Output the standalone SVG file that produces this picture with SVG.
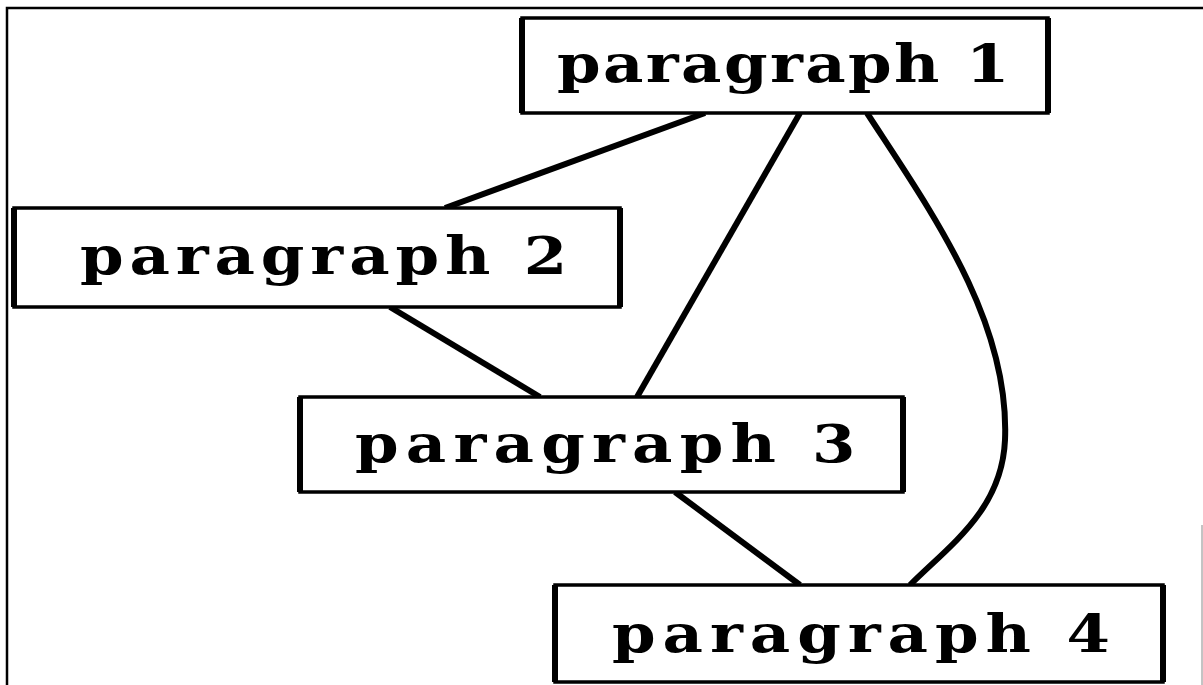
<svg xmlns="http://www.w3.org/2000/svg" width="1203" height="685" viewBox="0 0 1203 685">
  <style>
    .box { fill: #fff; stroke: #000; stroke-width: 3.5; }
    .side { stroke: #000; stroke-width: 6; }
    .label { font-family: "DejaVu Serif", "Liberation Serif", serif; font-size: 52px; font-weight: bold; fill: #000; }
    .edge { fill: none; stroke: #000; stroke-width: 6; stroke-linecap: butt; }
    .frame { fill: none; stroke: #000; stroke-width: 2.5; }
  </style>
  <rect width="1203" height="685" fill="#fff"/>
  <!-- outer frame -->
  <path class="frame" d="M7,690 L7,8 L1210,8"/>
  <line x1="1202" y1="525" x2="1202" y2="685" stroke="#888" stroke-width="1"/>

  <g id="connectors">
    <line class="edge" x1="705" y1="113" x2="445" y2="208"/>
    <line class="edge" x1="800" y1="113" x2="637" y2="397"/>
    <path class="edge" d="M867,113 C930,210 1010,320 1005,440 C1002,510 950,545 910,585"/>
    <line class="edge" x1="390" y1="307" x2="540" y2="397"/>
    <line class="edge" x1="675" y1="492" x2="800" y2="585"/>
  </g>

  <!-- labels are set in a horizontally widened serif -->
  <g id="node-p1">
    <rect class="box" x="522" y="18" width="526" height="95"/>
    <line class="side" x1="522" y1="18" x2="522" y2="113"/>
    <line class="side" x1="1048" y1="18" x2="1048" y2="113"/>
    <text class="label" transform="translate(557,82) scale(1.2,1)" textLength="377" lengthAdjust="spacing">paragraph 1</text>
  </g>
  <g id="node-p2">
    <rect class="box" x="14" y="208" width="606" height="99"/>
    <line class="side" x1="14" y1="208" x2="14" y2="307"/>
    <line class="side" x1="620" y1="208" x2="620" y2="307"/>
    <text class="label" transform="translate(80,274) scale(1.2,1)" textLength="406" lengthAdjust="spacing">paragraph 2</text>
  </g>
  <g id="node-p3">
    <rect class="box" x="300" y="397" width="603" height="95"/>
    <line class="side" x1="300" y1="397" x2="300" y2="492"/>
    <line class="side" x1="903" y1="397" x2="903" y2="492"/>
    <text class="label" transform="translate(355,462) scale(1.2,1)" textLength="417" lengthAdjust="spacing">paragraph 3</text>
  </g>
  <g id="node-p4">
    <rect class="box" x="555" y="585" width="608" height="97"/>
    <line class="side" x1="555" y1="585" x2="555" y2="682"/>
    <line class="side" x1="1163" y1="585" x2="1163" y2="682"/>
    <text class="label" transform="translate(612,652) scale(1.2,1)" textLength="415" lengthAdjust="spacing">paragraph 4</text>
  </g>
</svg>
